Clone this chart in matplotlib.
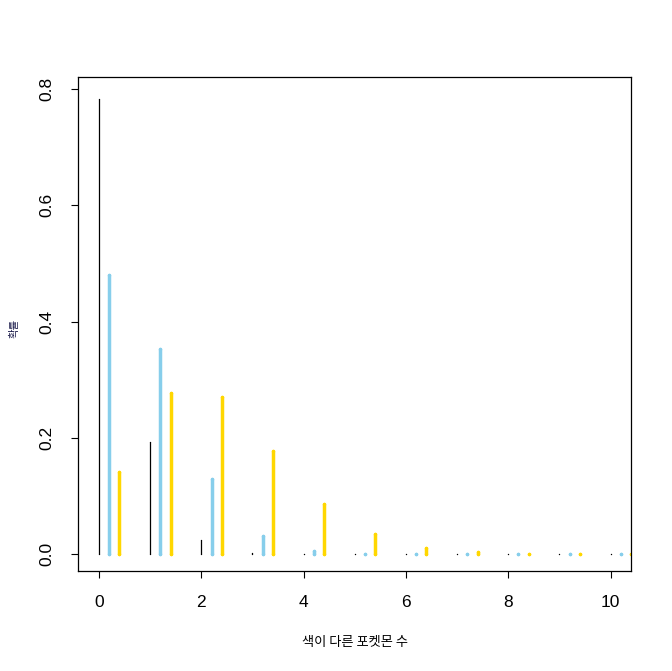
import matplotlib
matplotlib.use("Agg")
from matplotlib import pyplot as plt

# number of differently-coloured pokemon (x) and probabilities for three cases
counts = list(range(11))
prob_black = [0.783, 0.192, 0.0235, 0.0019, 0.00012, 0.000006, 0.0, 0.0, 0.0, 0.0, 0.0]
prob_blue = [0.480, 0.353, 0.130, 0.032, 0.0058, 0.00086, 0.0001, 0.00001, 0.0, 0.0, 0.0]
prob_gold = [0.141, 0.277, 0.271, 0.177, 0.087, 0.034, 0.011, 0.0031, 0.0008, 0.00017, 0.00003]

x_ticks = [0, 2, 4, 6, 8, 10]
y_ticks = [0.0, 0.2, 0.4, 0.6, 0.8]

plt.rcParams["font.family"] = ["Liberation Sans", "Noto Sans CJK KR", "DejaVu Sans"]

fig = plt.figure(figsize=(6.72, 6.71), dpi=100)
ax = fig.add_axes([78 / 672, 100 / 671, 553 / 672, 494 / 671])

series = [
    ([c for c in counts], prob_black, "black", 0.9),
    ([c + 0.2 for c in counts], prob_blue, "#87CEEB", 2.5),
    ([c + 0.4 for c in counts], prob_gold, "#FFD700", 2.5),
]
for xs, ys, col, lw in series:
    ax.vlines(xs, 0, ys, colors=col, linewidth=lw, capstyle="round")
    # round line ends like R's type="h", visible even for near-zero heights
    for yy in ([0] * len(xs), ys):
        ax.plot(xs, yy, linestyle="none", marker="o", markersize=lw,
                markeredgewidth=0, color=col)

ax.set_xlim(-0.41, 10.4)
ax.set_ylim(-0.029, 0.8206)
ax.set_xticks(x_ticks)
ax.set_xticklabels([str(t) for t in x_ticks])
ax.set_yticks(y_ticks)
ax.set_yticklabels(["%.1f" % t for t in y_ticks], rotation=90, va="center")
ax.tick_params(direction="out", length=5, width=0.8, labelsize=12.5, pad=12)
for s in ax.spines.values():
    s.set_linewidth(0.9)

ax.set_xlabel("색이 다른 포켓몬 수", family=["Noto Sans CJK KR"], fontsize=9.5, va="center")
ax.xaxis.set_label_coords(0.5, -0.144)
ax.set_ylabel("확률", family=["Noto Sans CJK KR"], fontsize=7.5, va="center", color="#1a1a4a")
ax.yaxis.set_label_coords(-0.1157, 0.492)

fig.savefig("out.png", dpi=100)
